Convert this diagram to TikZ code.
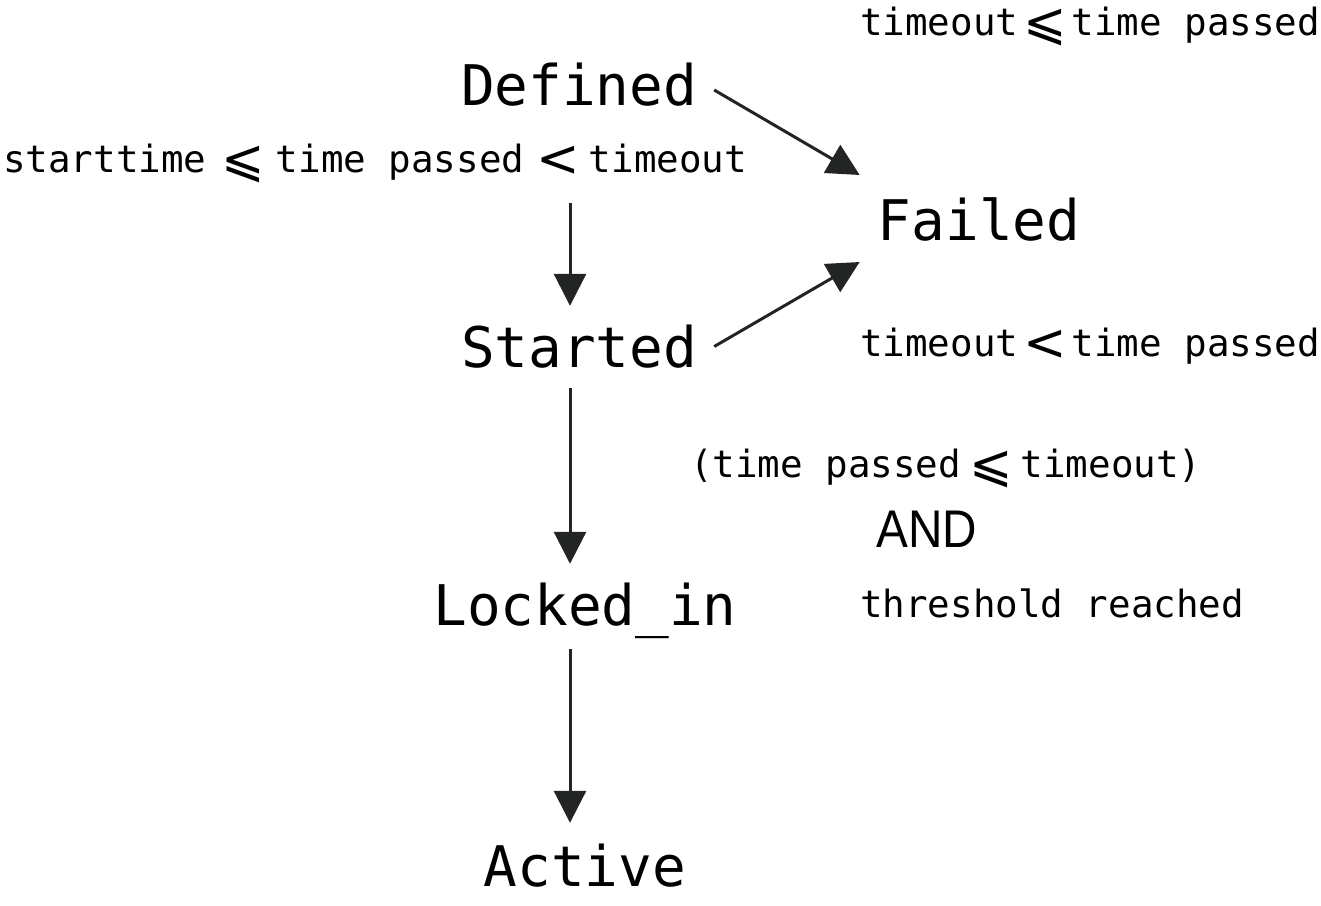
\RequirePackage{fix-cm}
\documentclass[tikz,border=0pt]{standalone}
\usepackage{fontspec}
\setmainfont{DejaVu Sans Mono}
\newfontfamily\andfont{Liberation Sans}
\newfontfamily\symfont{DejaVu Sans}
\usetikzlibrary{arrows.meta}
\definecolor{arrowgray}{RGB}{34,37,36}

\newcommand{\leqsym}{\raisebox{-4pt}{\symfont\fontsize{52}{52}\selectfont ⩽}}
\newcommand{\ltsym}{\raisebox{-4pt}{\symfont\fontsize{52}{52}\selectfont <}}

\begin{document}
\begin{tikzpicture}[x=1pt,y=-1pt]

  \tikzstyle{statenode}=[inner sep=0pt,anchor=base,text height=41pt,text depth=0pt,font=\fontsize{56}{56}\selectfont]
  \tikzstyle{condnode}=[inner sep=0pt,anchor=base west,font=\fontsize{37.5}{37.5}\selectfont]
  \tikzstyle{andnode}=[inner sep=0pt,anchor=base west,font=\andfont\fontsize{53}{53}\selectfont,xscale=0.9]
  \tikzstyle{pointer}=[draw=arrowgray,line width=3pt,-{Triangle[width=32pt,length=32pt]},shorten <=21pt,shorten >=20pt]

  \useasboundingbox (0,0) rectangle (1321,905);

  % nodes
  \node[statenode] (defined) at (579,105) {Defined};
  \node[statenode] (failed)  at (979,240) {Failed};
  \node[statenode] (started) at (579,367) {Started};
  \node[statenode] (locked)  at (585,625) {Locked\_in};
  \node[statenode] (active)  at (585,886) {Active};

  \node[condnode] (failcond1) at (860,35)  {timeout\hspace{5pt}\leqsym\hspace{5pt}time passed};
  \node[condnode] (startcond) at (3,172)   {starttime\hspace{15pt}\leqsym\hspace{11pt}time passed\hspace{12pt}\ltsym\hspace{9pt}timeout};
  \node[condnode] (failcond2) at (860,356) {timeout\hspace{5pt}\ltsym\hspace{5pt}time passed};
  \node[condnode] (lockcond1) at (690,477) {(time passed\hspace{8pt}\leqsym\hspace{8pt}timeout)};
  \node[andnode]  (lockand)   at (876,547) {AND};
  \node[condnode] (lockcond2) at (860,617) {threshold reached};

  \coordinate (spine) at (570,0);

  % pointers
  \draw[pointer,shorten <=98pt] (spine |- defined.south) -- (spine |- started.north);
  \draw[pointer]                (spine |- started.south) -- (spine |- locked.north);
  \draw[pointer,shorten <=24pt,shorten >=22pt] (spine |- locked.south) -- (spine |- active.north);
  \draw[pointer,shorten <=0pt,shorten >=0pt] ([shift={(17,5.5)}]defined.east) -- ([shift={(-18,-44.5)}]failed.west);
  \draw[pointer,shorten <=0pt,shorten >=0pt] ([shift={(17,0)}]started.east)   -- ([shift={(-18,42.5)}]failed.west);

\end{tikzpicture}
\end{document}
